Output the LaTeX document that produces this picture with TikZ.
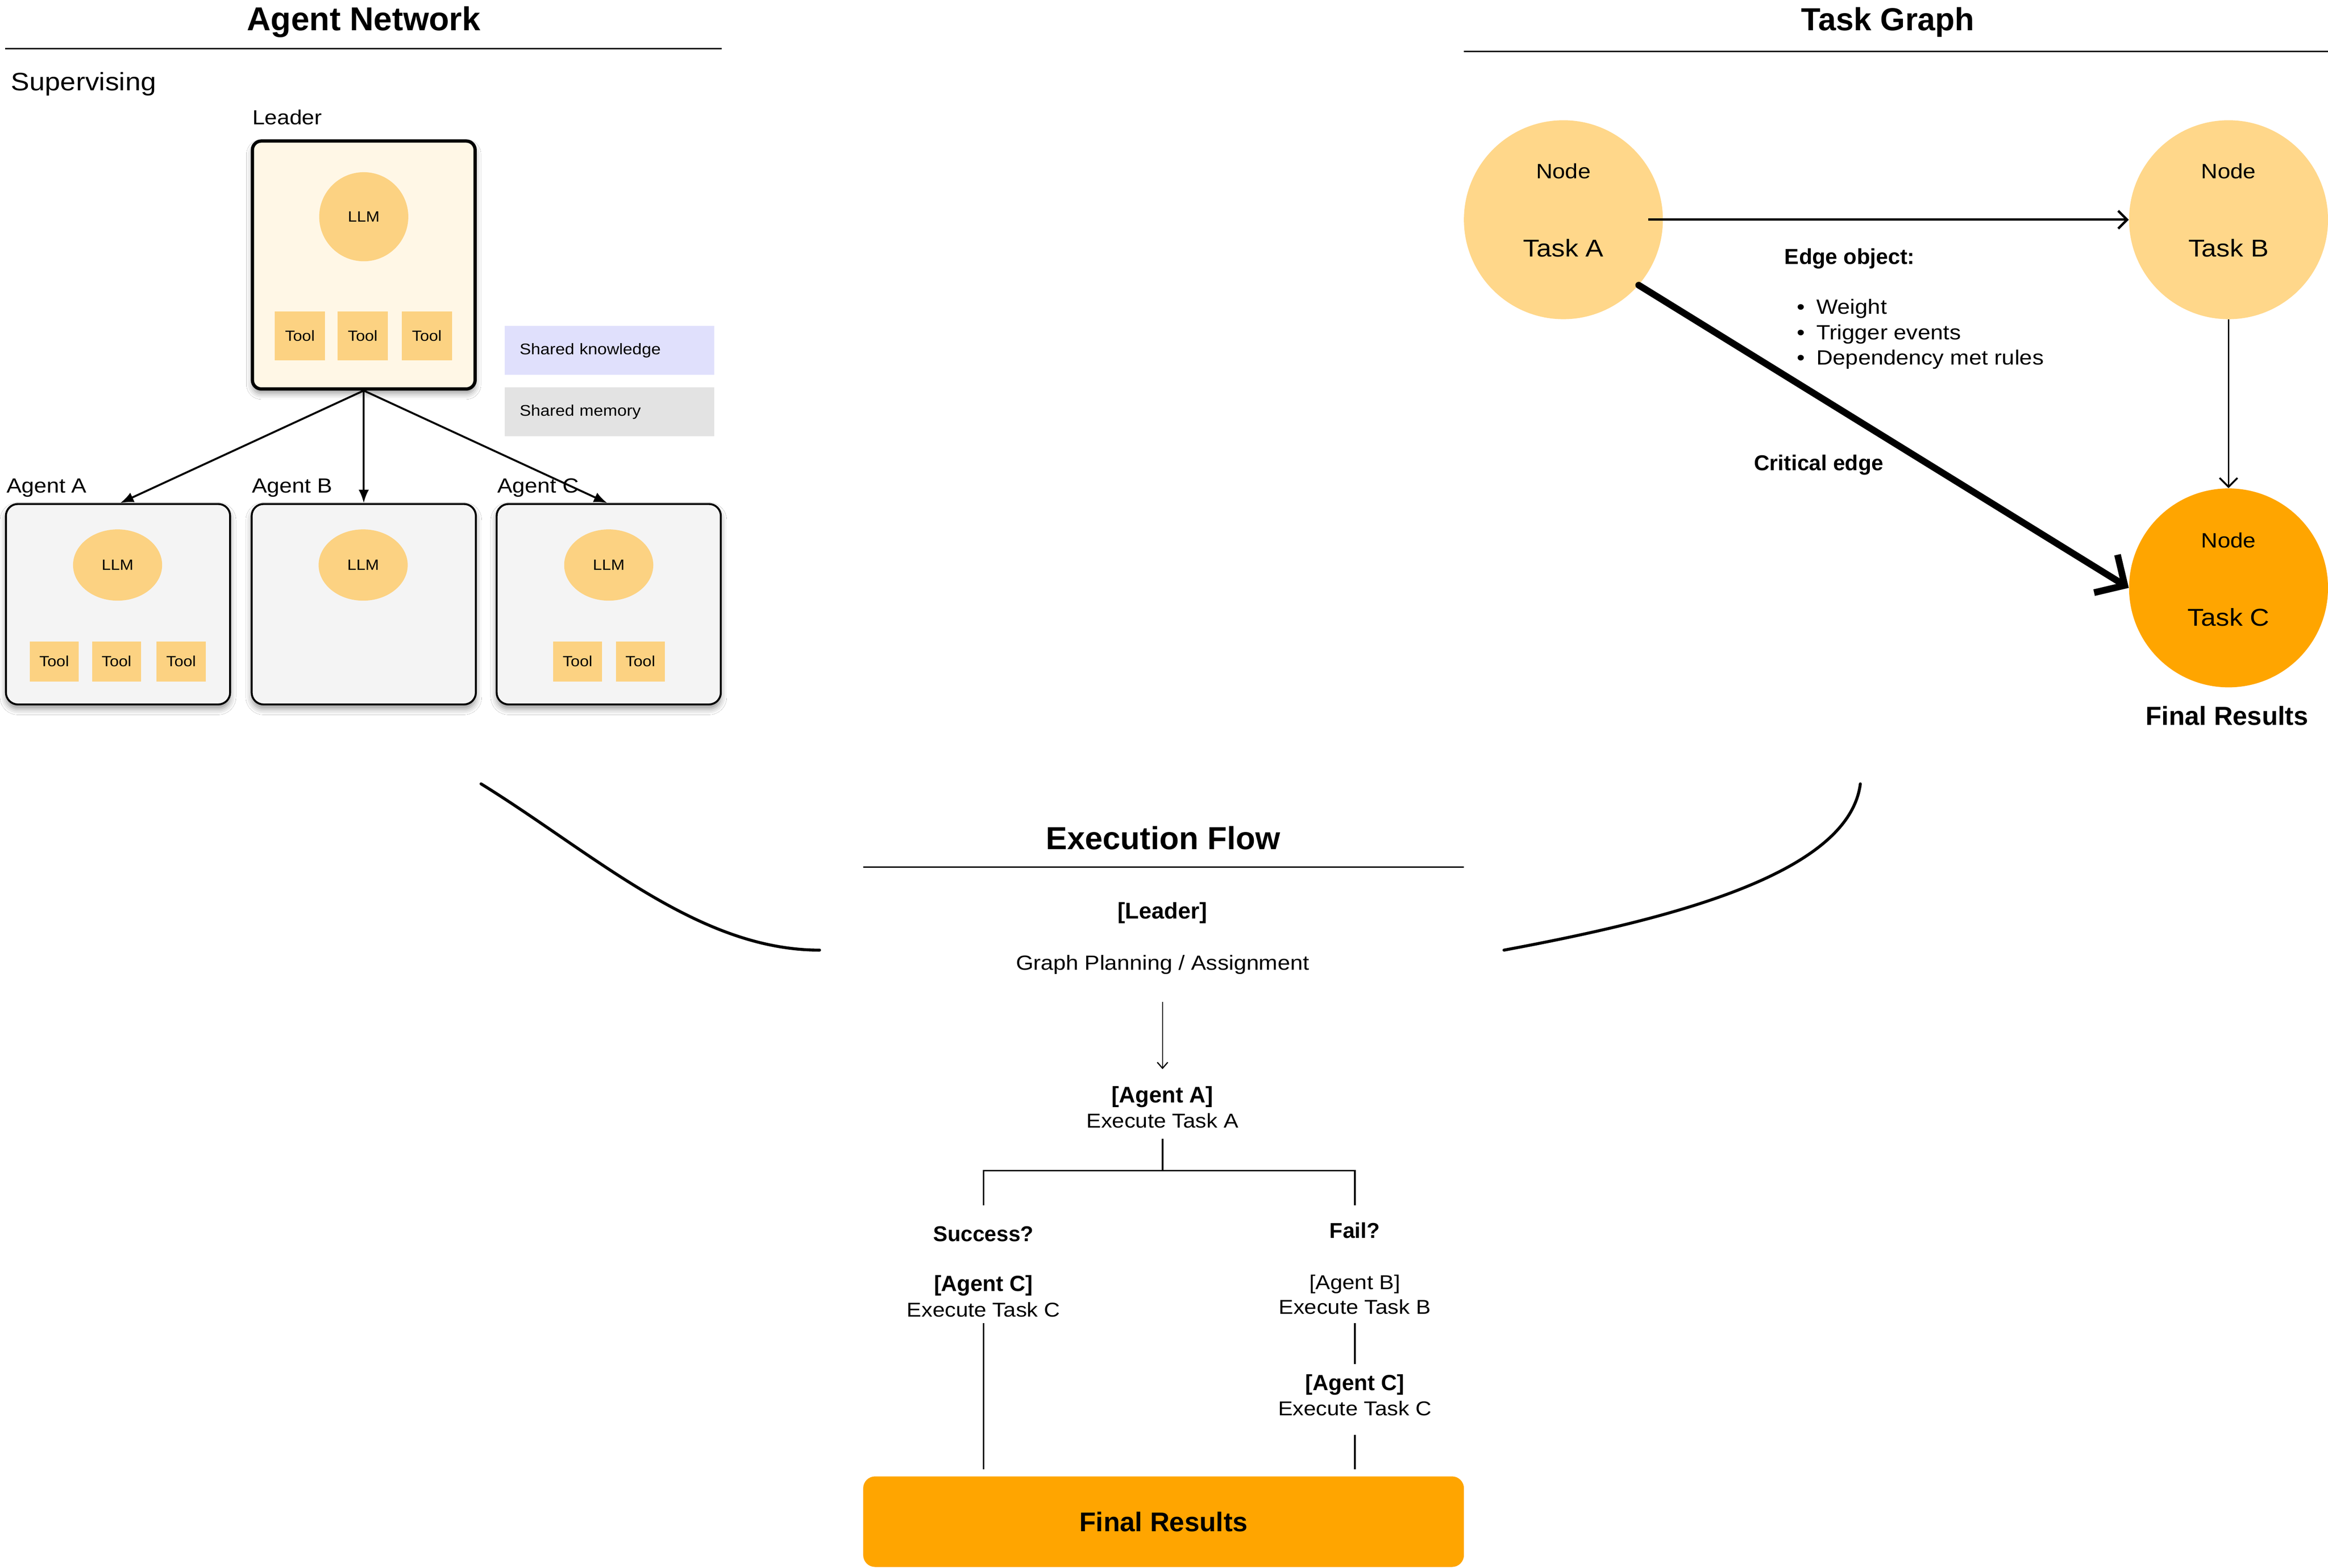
\documentclass[tikz,border=0pt]{standalone}
\usepackage{fontspec}
\setmainfont{Liberation Sans}[UprightFeatures={FakeStretch=1.1}]
\usetikzlibrary{arrows.meta,shadows.blur,shapes.geometric,calc}
\definecolor{creamc}{HTML}{FFF7E6}
\definecolor{llmc}{HTML}{FCD282}
\definecolor{taskc}{HTML}{FFD78A}
\definecolor{orangec}{HTML}{FFA500}
\definecolor{knowc}{HTML}{E0E0FC}
\definecolor{memc}{HTML}{E3E3E3}
\definecolor{agentc}{HTML}{F4F4F4}
\newcommand{\fsz}[1]{\fontsize{#1}{#1}\selectfont}
\tikzset{
  lbl/.style={anchor=base, inner sep=0pt, outer sep=0pt},
  ttl/.style={lbl, font=\fsz{21.5}\bfseries},
  sbox/.style={blur shadow={shadow xshift=0pt, shadow yshift=-3pt, shadow blur radius=4pt, shadow opacity=40}},
  leaderbox/.style={draw, line width=2.2pt, rounded corners=6pt, fill=creamc, minimum width=150pt, minimum height=167pt, inner sep=0pt, sbox},
  agentbox/.style={draw, line width=1.3pt, rounded corners=8pt, fill=agentc, minimum width=151pt, minimum height=135pt, inner sep=0pt, sbox},
  llmbig/.style={circle, fill=llmc, minimum size=60pt, inner sep=0pt, font=\fsz{10}},
  llmsmall/.style={ellipse, fill=llmc, minimum width=60pt, minimum height=48pt, inner sep=0pt, font=\fsz{10}},
  toolbig/.style={rectangle, fill=llmc, minimum width=34pt, minimum height=33pt, inner sep=0pt, font=\fsz{9.9}},
  toolsmall/.style={rectangle, fill=llmc, minimum width=33pt, minimum height=27pt, inner sep=0pt, font=\fsz{9.9}},
  sharedbox/.style={rectangle, minimum width=141pt, minimum height=33pt, text width=121pt, align=left, inner xsep=10pt, inner ysep=0pt, font=\fsz{10.4}},
  tasknode/.style={circle, minimum size=134pt, inner sep=0pt},
  net/.style={-{Latex[length=9pt,width=7pt]}, line width=1.3pt},
  barb/.style={-{Straight Barb[length=6pt,width=12pt]}},
  flow/.style={line width=1.1pt},
  nodetxt/.style={lbl, font=\fsz{14}},
  tasktxt/.style={lbl, font=\fsz{16.4}},
  ftxt/.style={lbl, font=\fsz{13.5}},
  fbold/.style={lbl, font=\fsz{14.8}\bfseries},
  bul/.style={lbl, anchor=base west, font=\fsz{13.9}},
}
\begin{document}
\begin{tikzpicture}[x=1pt,y=-1pt]
\fill[white] (0,0) rectangle (1568,1056);
\useasboundingbox (0,0) rectangle (1568,1056);

% ---------------- Agent Network ----------------
\node[ttl, font=\fsz{22.3}\bfseries] (antitle) at (245,20.6) {Agent Network};
\draw[line width=1pt] (3.5,32.7) -- (486,32.7);
\node[lbl, anchor=base west, font=\fsz{17}] (sup) at (7.5,61.1) {Supervising};
\node[lbl, anchor=base west, font=\fsz{13.7}] (leaderlbl) at (170,83.8) {Leader};

\node[leaderbox] (leader) at (245,178.5) {};
\node[llmbig] (lllm) at (245,146) {LLM};
\node[toolbig] (lt1) at (202,226.2) {Tool};
\node[toolbig] (lt2) at (244.3,226.2) {Tool};
\node[toolbig] (lt3) at (287.5,226.2) {Tool};

\node[sharedbox, fill=knowc] (know) at (410.5,236) {Shared knowledge};
\node[sharedbox, fill=memc] (mem) at (410.5,277.5) {Shared memory};

\node[lbl, anchor=base west, font=\fsz{13.8}] (laA) at (4.4,331.8) {Agent A};
\node[lbl, anchor=base west, font=\fsz{13.8}] (laB) at (169.8,331.8) {Agent B};
\node[lbl, anchor=base west, font=\fsz{13.8}] (laC) at (335,331.8) {Agent C};

\node[agentbox] (agA) at (79.5,407) {};
\node[agentbox] (agB) at (245,407) {};
\node[agentbox] (agC) at (410,407) {};

\node[llmsmall] (llmA) at (79.2,380.6) {LLM};
\node[llmsmall] (llmB) at (244.6,380.6) {LLM};
\node[llmsmall] (llmC) at (410,380.6) {LLM};

\node[toolsmall] (tA1) at (36.5,445.5) {Tool};
\node[toolsmall] (tA2) at (78.5,445.5) {Tool};
\node[toolsmall] (tA3) at (122,445.5) {Tool};
\node[toolsmall] (tC1) at (389,445.5) {Tool};
\node[toolsmall] (tC2) at (431.3,445.5) {Tool};

\draw[net] (leader.south) -- ([xshift=1.5pt]agA.north);
\draw[net] (leader.south) -- (agB.north);
\draw[net] (leader.south) -- ([xshift=-1pt]agC.north);

% ---------------- Task Graph ----------------
\node[ttl] (tgtitle) at (1271.5,20.6) {Task Graph};
\draw[line width=1pt] (986,34.6) -- (1568,34.6);

\node[tasknode, fill=taskc] (tA) at (1053,148) {};
\node[tasknode, fill=taskc] (tB) at (1501,148) {};
\node[tasknode, fill=orangec] (tC) at (1501,396) {};

\node[nodetxt] (nA) at (1053,120.4) {Node};
\node[tasktxt] (kA) at (1053,172.9) {Task A};
\node[nodetxt] (nB) at (1501,120.4) {Node};
\node[tasktxt] (kB) at (1501,172.9) {Task B};
\node[nodetxt] (nC) at (1501,368.9) {Node};
\node[tasktxt] (kC) at (1501,421.7) {Task C};
\node[lbl, font=\fsz{17.6}\bfseries] (tgfinal) at (1500,488.4) {Final Results};

\draw[barb, line width=1.6pt] ([xshift=-10pt]tA.east) -- (tB.west);
\draw[barb, line width=1.2pt] (tB.south) -- (tC.north);
\draw[-{Straight Barb[length=15pt,width=30pt]}, line width=4.5pt, line cap=round] (tA.-41) -- (tC.west);

\node[lbl, anchor=base west, font=\fsz{14.6}\bfseries] (edgeobj) at (1202,178.1) {Edge object:};
\node[bul] (w1) at (1210.3,211.6) {•\hspace{7.9pt}Weight};
\node[bul] (w2) at (1210.3,228.9) {•\hspace{7.9pt}Trigger events};
\node[bul] (w3) at (1210.3,245.7) {•\hspace{7.9pt}Dependency met rules};
\node[lbl, font=\fsz{14.5}\bfseries] (crit) at (1225,316.8) {Critical edge};

% ---------------- Execution Flow ----------------
\node[lbl, font=\fsz{21.5}\bfseries] (eftitle) at (783.4,572.3) {Execution Flow};
\draw[line width=1pt] (581.5,584) -- (986,584);

\node[fbold, font=\fsz{15.3}\bfseries] (eLeader) at (783,618.9) {[Leader]};
\node[ftxt, font=\fsz{13.8}] (eGP) at (783,653.4) {Graph Planning / Assignment};
\node[fbold, font=\fsz{15.2}\bfseries] (eAgA) at (783,742.9) {[Agent A]};
\node[ftxt] (eExA) at (783,759.7) {Execute Task A};

\node[fbold, font=\fsz{14.5}\bfseries] (eSucc) at (662.4,836.3) {Success?};
\node[fbold, font=\fsz{14.5}\bfseries] (eFail) at (912.5,833.9) {Fail?};
\node[fbold] (eAgCl) at (662.4,869.8) {[Agent C]};
\node[ftxt] (eExCl) at (662.4,887) {Execute Task C};
\node[ftxt] (eAgB) at (912.5,868.5) {[Agent B]};
\node[ftxt] (eExB) at (912.5,885.2) {Execute Task B};
\node[fbold] (eAgCr) at (912.5,936.7) {[Agent C]};
\node[ftxt] (eExCr) at (912.5,953.4) {Execute Task C};

\node[rectangle, rounded corners=8pt, fill=orangec, minimum width=404.6pt, minimum height=61pt, inner sep=0pt] (final) at (783.7,1025) {};
\node[lbl, font=\fsz{18.2}\bfseries] (finaltxt) at (783.7,1031.5) {Final Results};

\coordinate (split) at (783,788.6);
\coordinate (bl) at (662.4,812);
\coordinate (br) at (912.5,812);

\draw[-{Straight Barb[length=4pt,width=7pt]}, line width=0.8pt] ($(eGP.south)+(0,18.6)$) -- ($(eAgA.north)+(0,-11.7)$);
\draw[flow] ($(eExA.south)+(0,7.3)$) -- (split);
\draw[flow] (bl) |- (split) -| (br);
\draw[flow] ($(eExCl.south)+(0,4)$) -- ($(eExCl.south |- final.north)+(0,-4.7)$);
\draw[flow] ($(eExB.south)+(0,5.8)$) -- ($(eAgCr.north)+(0,-7)$);
\draw[flow] ($(eExCr.south)+(0,13.1)$) -- ($(eExCr.south |- final.north)+(0,-4.7)$);

% ---------------- hand-drawn curves ----------------
\coordinate (lc1) at (324,528);
\coordinate (lc2) at (552,640);
\coordinate (rc1) at (1013,640);
\coordinate (rc2) at (1253,528);
\draw[line width=2pt, line cap=round] (lc1) .. controls (400,575) and (470,640) .. (lc2);
\draw[line width=2pt, line cap=round] (rc1) .. controls (1120,620) and (1245,590) .. (rc2);
\end{tikzpicture}
\end{document}
